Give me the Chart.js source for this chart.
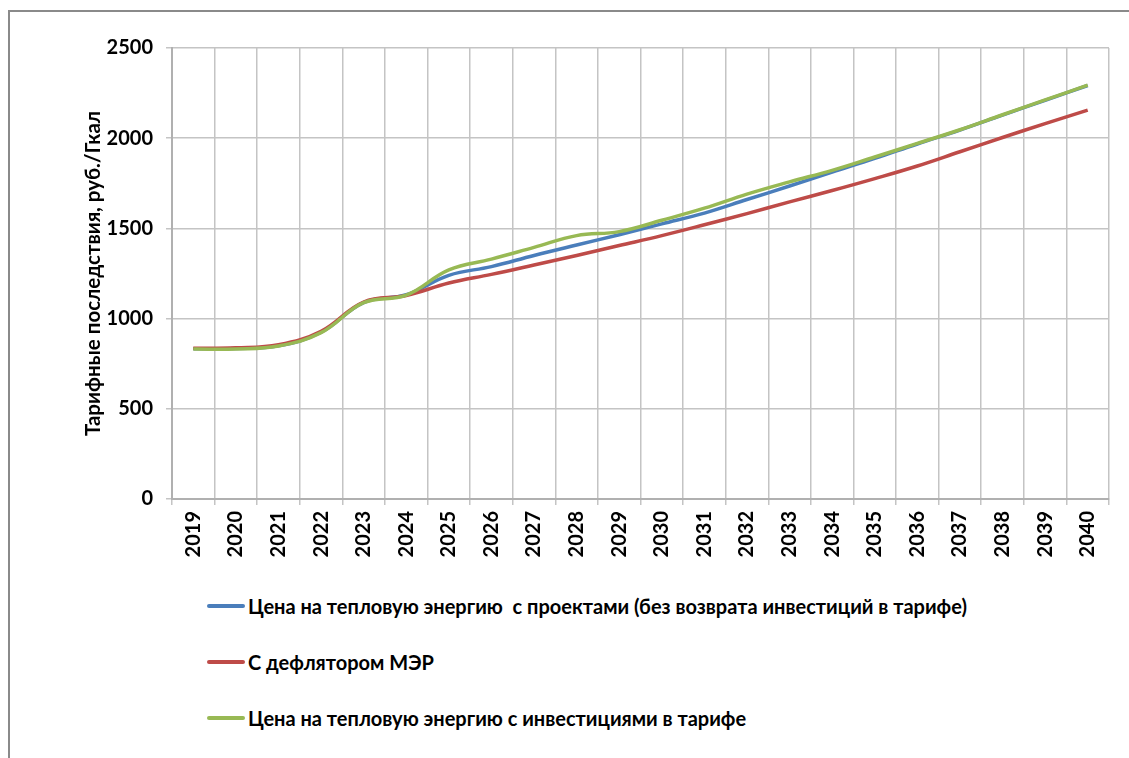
<!DOCTYPE html>
<html>
<head>
<meta charset="utf-8">
<script src="https://cdn.jsdelivr.net/npm/chart.js@4.4.1/dist/chart.umd.min.js"></script>
<style>
  html, body { margin: 0; padding: 0; background: #fff; }
  body { width: 1129px; height: 758px; position: relative; overflow: hidden; font-family: Lato, "Noto Sans", sans-serif; }
  #frame { position: absolute; left: 8px; top: 10px; width: 1125px; height: 760px; border-left: 2px solid #8a8a8a; border-top: 2px solid #8a8a8a; box-sizing: border-box; }
  #wrap { position: absolute; left: 0; top: 0; width: 1129px; height: 570px; }
  #legend { position: absolute; left: 207px; top: 0; }
  .item { position: absolute; left: 0; white-space: nowrap; font-weight: bold; font-size: 20px; color: #000; display: flex; align-items: center; }
  .item .sw { width: 38px; height: 4px; border-radius: 2px; margin-right: 3px; }
</style>
</head>
<body>
<div id="frame"></div>
<div id="wrap"><canvas id="c"></canvas></div>
<div id="legend"></div>
<script>
const years = ['2019','2020','2021','2022','2023','2024','2025','2026','2027','2028','2029','2030','2031','2032','2033','2034','2035','2036','2037','2038','2039','2040'];
const priceProjects = [833, 834, 849, 924, 1089, 1132, 1240, 1288, 1350, 1408, 1465, 1525, 1585, 1660, 1735, 1812, 1888, 1968, 2045, 2128, 2210, 2292];
const deflatorMER = [835, 838, 855, 930, 1092, 1128, 1197, 1245, 1297, 1350, 1405, 1460, 1520, 1582, 1647, 1710, 1776, 1846, 1925, 2004, 2081, 2156];
const priceInvest = [831, 832, 848, 922, 1088, 1130, 1270, 1330, 1395, 1460, 1482, 1545, 1612, 1690, 1758, 1822, 1896, 1971, 2047, 2130, 2212, 2294];
const yTicks = [0, 500, 1000, 1500, 2000, 2500];
const seriesNames = [
  'Цена на тепловую энергию  с проектами (без возврата инвестиций в тарифе)',
  'С дефлятором МЭР',
  'Цена на тепловую энергию с инвестициями в тарифе'
];
const yTitle = 'Тарифные последствия, руб./Гкал';
const colors = ['#4a7ebb', '#be4b48', '#98b954'];

const FONT = 'Lato, "Noto Sans", sans-serif';
const H = 570;

const datasets = [priceProjects, deflatorMER, priceInvest].map((d, i) => ({
  label: seriesNames[i],
  data: d,
  borderColor: colors[i],
  backgroundColor: colors[i],
  borderWidth: 3.5,
  pointRadius: 0,
  tension: 0.4,
  fill: false,
  order: [2, 1, 0][i]
}));

new Chart(document.getElementById('c'), {
  type: 'line',
  data: { labels: years, datasets },
  options: {
    responsive: true,
    maintainAspectRatio: false,
    animation: false,
    layout: { padding: { top: 48, right: 20, left: 0, bottom: 0 } },
    plugins: { legend: { display: false }, tooltip: { enabled: false } },
    scales: {
      x: {
        offset: true,
        grid: { offset: true, color: '#c4c4c4', lineWidth: 1.5, tickLength: 6 },
        border: { color: '#b0b0b0', width: 2 },
        ticks: { minRotation: 90, maxRotation: 90, padding: 6, color: '#000', font: { family: FONT, size: 20, weight: 'bold' } },
        afterFit: (s) => { s.height = H - 499; }
      },
      y: {
        min: 0, max: 2500,
        afterBuildTicks: (s) => { s.ticks = yTicks.map(v => ({ value: v })); },
        grid: { color: '#c4c4c4', lineWidth: 1.5, tickLength: 6 },
        border: { color: '#b0b0b0', width: 2 },
        ticks: { padding: 13, color: '#000', font: { family: FONT, size: 20, weight: 'bold' }, callback: (v) => String(v) },
        title: { display: true, text: yTitle, color: '#000', padding: { top: 81, bottom: 0 }, font: { family: FONT, size: 20.5, weight: 'bold' } },
        afterFit: (s) => { s.width = 172; }
      }
    }
  }
});

const lg = document.getElementById('legend');
const ys = [606, 662, 718];
seriesNames.forEach((n, i) => {
  const it = document.createElement('div');
  it.className = 'item';
  it.style.top = (ys[i] - 12) + 'px';
  it.style.height = '24px';
  const sw = document.createElement('span');
  sw.className = 'sw';
  sw.style.background = colors[i];
  const tx = document.createElement('span');
  tx.textContent = n;
  tx.style.whiteSpace = 'pre';
  it.appendChild(sw); it.appendChild(tx);
  lg.appendChild(it);
});
</script>
</body>
</html>
